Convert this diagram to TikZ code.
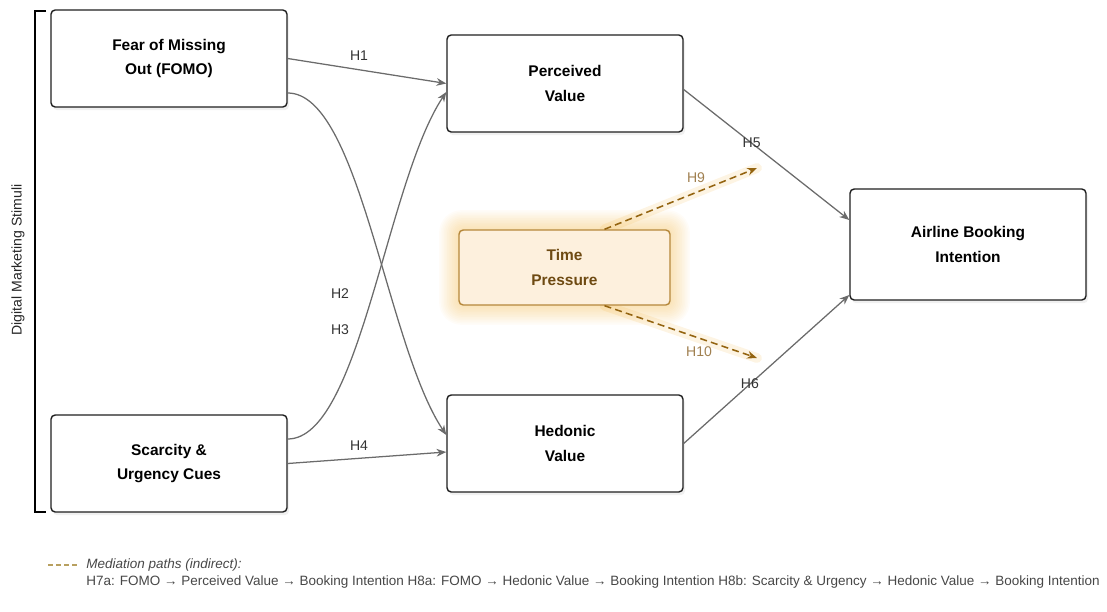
\documentclass[tikz,border=0pt]{standalone}
\usepackage{fontspec}
\setmainfont{Liberation Sans}
\usetikzlibrary{calc,arrows.meta,shadows,backgrounds}
\definecolor{edgegray}{HTML}{6B6B6B}
\definecolor{boxline}{HTML}{1F1F1F}
\definecolor{tpfill}{HTML}{FDF0DD}
\definecolor{tpline}{HTML}{B5873A}
\definecolor{tptext}{HTML}{6E4A12}
\definecolor{medline}{HTML}{946410}
\definecolor{medlabel}{HTML}{A08050}
\definecolor{glowcol}{HTML}{F2B440}
\definecolor{legtext}{HTML}{474747}
\definecolor{legdashcol}{HTML}{B8A060}
\begin{document}
\begin{tikzpicture}[
boxbase/.style={line width=1pt, rounded corners=3pt, align=center, minimum width=5.9cm, minimum height=2.425cm, font=\fontsize{11}{17.5}\selectfont\bfseries},
construct/.style={boxbase, draw=boxline, fill=white, drop shadow={shadow xshift=0.05cm, shadow yshift=-0.08cm, opacity=0.12}},
moderator/.style={boxbase, draw=tpline, fill=tpfill, text=tptext, minimum width=5.275cm, minimum height=1.875cm},
hyp/.style={draw=edgegray, line width=0.9pt, -{Stealth[length=7pt,width=5.5pt]}},
medpath/.style={draw=medline, line width=1.1pt, dash pattern=on 5pt off 3pt, -{Stealth[length=7pt,width=5.5pt]}},
hlabel/.style={font=\fontsize{10}{12}\selectfont, text=black!80},
mlabel/.style={font=\fontsize{10}{12}\selectfont, text=medlabel},
legfont/.style={font=\fontsize{9.6}{12}\selectfont, text=legtext, inner sep=0pt, anchor=west}
]
\useasboundingbox (0,0) rectangle (27.675,-15.3);
\node[construct] (fomo) at (4.225,-1.4625) {Fear of Missing\\Out (FOMO)};
\node[construct] (perc) at (14.125,-2.0875) {Perceived\\Value};
\node[moderator] (time) at (14.1125,-6.6875) {Time\\Pressure};
\node[construct] (scar) at (4.225,-11.5875) {Scarcity \&\\Urgency Cues};
\node[construct] (hedo) at (14.125,-11.0875) {Hedonic\\Value};
\node[construct, minimum height=2.775cm] (airl) at (24.2,-6.1125) {Airline Booking\\Intention};
\coordinate (h9tip) at (18.925,-4.2);
\coordinate (h10tip) at (18.925,-8.95);
\begin{scope}[on background layer]
\foreach \g in {1,...,12}
{
\fill[glowcol, opacity=0.035, rounded corners=4pt+\g*1pt] ($(time.south west)+(-0.04*\g,-0.04*\g)$) rectangle ($(time.north east)+(0.04*\g,0.04*\g)$);
}
\draw[glowcol, opacity=0.15, line width=7pt, line cap=round] ([xshift=1cm]time.north) -- (h9tip);
\draw[glowcol, opacity=0.15, line width=7pt, line cap=round] ([xshift=1cm]time.south) -- (h10tip);
\end{scope}
\draw[hyp] (fomo.east) -- node[hlabel, pos=0.45, above=3pt] {H1} (perc.west);
\draw[hyp] ([yshift=-0.8625cm]fomo.east) .. controls +(1.8,0) and +(-1.5,2.25) .. ([yshift=0.2125cm]hedo.west);
\draw[hyp] ([yshift=0.6125cm]scar.east) .. controls +(1.8,0) and +(-1.5,-2.25) .. ([yshift=-0.2125cm]perc.west);
\draw[hyp] (scar.east) -- node[hlabel, pos=0.45, above=2pt] {H4} ([yshift=-0.2125cm]hedo.west);
\draw[hyp] ([yshift=-0.15cm]perc.east) -- node[hlabel, pos=0.41] {H5} ([yshift=0.6125cm]airl.west);
\draw[hyp] (hedo.east) -- node[hlabel, pos=0.4] {H6} ([yshift=-1.2625cm]airl.west);
\node[hlabel] (h2) at (8.5,-7.35) {H2};
\node[hlabel] (h3) at (8.5,-8.25) {H3};
\draw[medpath] ([xshift=1cm]time.north) -- node[mlabel, pos=0.6, above=3pt] {H9} (h9tip);
\draw[medpath] ([xshift=1cm]time.south) -- node[mlabel, pos=0.62, below=2pt] {H10} (h10tip);
\draw[line width=1.2pt] (1.15,-0.27) -- (0.875,-0.27) -- (0.875,-12.8) -- (1.15,-12.8);
\node[rotate=90, font=\fontsize{10}{12}\selectfont, text=black!85] (stim) at (0.45,-6.5) {Digital Marketing Stimuli};
\coordinate (legA) at (1.2,-14.125);
\coordinate (legB) at (2.0,-14.125);
\draw[legdashcol, line width=0.9pt, dash pattern=on 3.5pt off 2.2pt] (legA) -- (legB);
\node[legfont, font=\fontsize{9.6}{12}\selectfont\itshape] (legtitle) at (2.15,-14.125) {Mediation paths (indirect):};
\node[legfont] (legbody) at (2.15,-14.55) {H7a: FOMO → Perceived Value → Booking Intention H8a: FOMO → Hedonic Value → Booking Intention H8b: Scarcity \& Urgency → Hedonic Value → Booking Intention};
\end{tikzpicture}
\end{document}
